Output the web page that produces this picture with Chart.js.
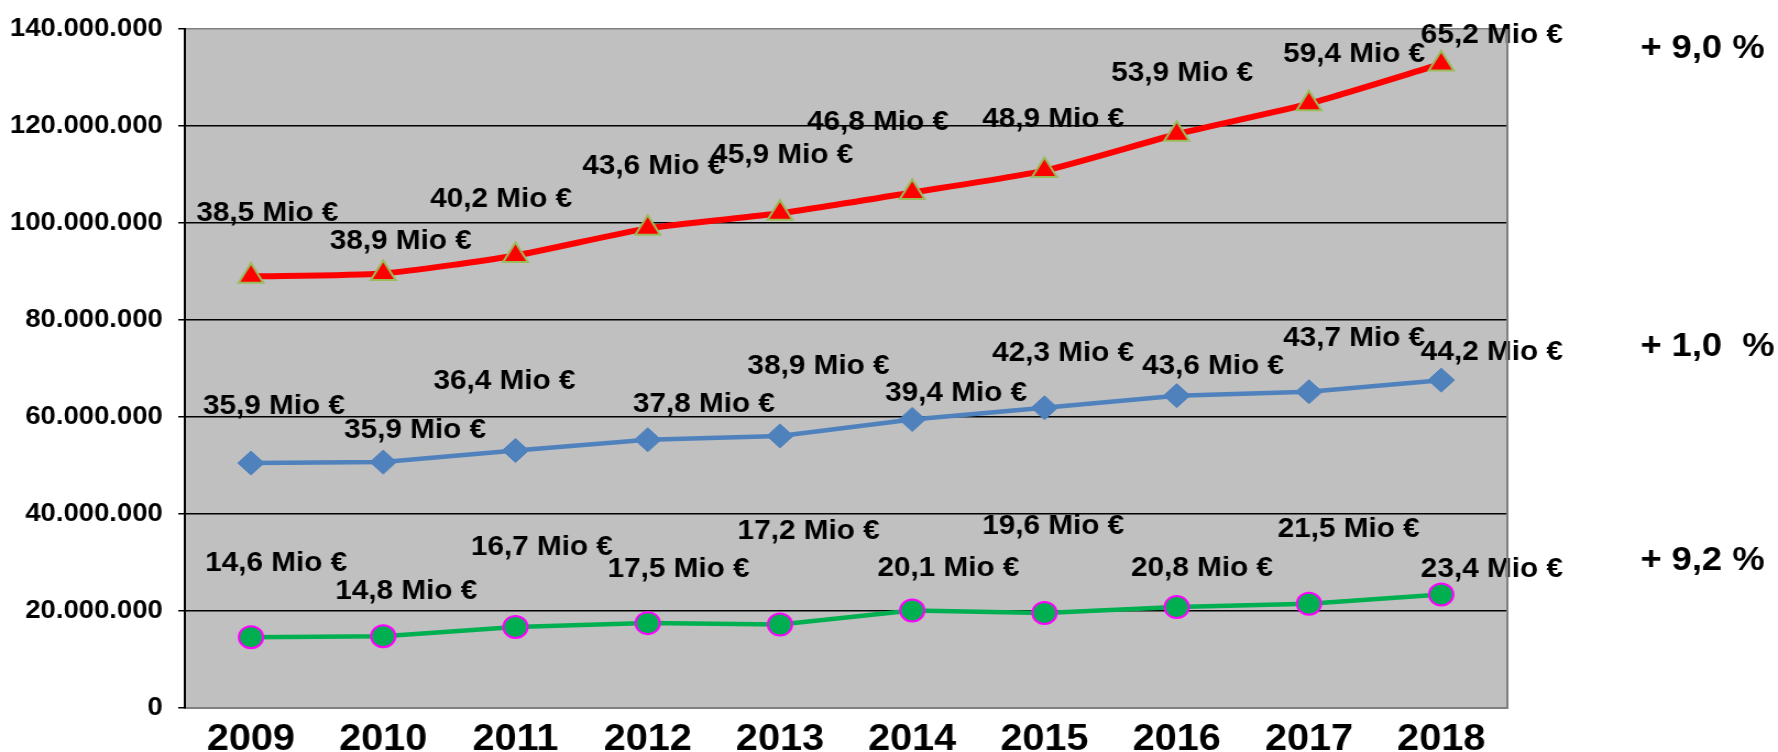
<!DOCTYPE html>
<html>
<head>
<meta charset="utf-8">
<script src="https://cdn.jsdelivr.net/npm/chart.js@4/dist/chart.umd.min.js"></script>
<style>
  body { margin: 0; background: #fff; }
  /* the original picture is a slightly stretched chart, so draw narrower and stretch */
  #chart { display: block; }
</style>
</head>
<body>
<canvas id="chart" width="1616" height="752" style="width:1778px;height:752px"></canvas>
<script>
const years = ["2009", "2010", "2011", "2012", "2013", "2014", "2015", "2016", "2017", "2018"];
// values in Mio €, the lines are stacked on top of each other
const bottomValues = [14.6, 14.8, 16.7, 17.5, 17.2, 20.1, 19.6, 20.8, 21.5, 23.4];
const middleValues = [35.9, 35.9, 36.4, 37.8, 38.9, 39.4, 42.3, 43.6, 43.7, 44.2];
const topValues = [38.5, 38.9, 40.2, 43.6, 45.9, 46.8, 48.9, 53.9, 59.4, 65.2];
const growthLabels = ["+ 9,2 %", "+ 1,0  %", "+ 9,0 %"];
const yMax = 140;
const yStep = 20;

// where each value label sits relative to its point (canvas px, before stretch)
const labelOffsets = [
  [[23, -74], [21, -45], [24, -79], [28, -54], [26, -93], [33, -42], [8, -86], [23, -39], [36, -74], [46, -25]],
  [[21, -57], [29, -32], [-10, -69], [51, -35], [35, -69], [40, -26], [17, -54], [33, -29], [41, -53], [46, -28]],
  [[15, -63], [16, -32], [-13, -56], [5, -62], [2, -58], [-31, -70], [8, -51], [5, -61], [41, -49], [46, -28]],
];
const growthOffsets = [[181, -34], [181, -33], [181, -15]];

const fmtMio = (v) => v.toFixed(1).replace(".", ",") + " Mio €";
const fmtTick = (v) => String(Math.round(v * 1000000)).replace(/\B(?=(\d{3})+(?!\d))/g, ".");

Chart.defaults.font.family = "'Liberation Sans', Arial, sans-serif";
Chart.defaults.font.weight = "bold";
Chart.defaults.color = "#000";

const plotBackground = {
  id: "plotBackground",
  beforeDraw(chart) {
    const { ctx, chartArea: a } = chart;
    ctx.save();
    ctx.fillStyle = "#c0c0c0";
    ctx.fillRect(a.left, a.top, a.right - a.left, a.bottom - a.top);
    ctx.restore();
  },
  afterDraw(chart) {
    const { ctx, chartArea: a } = chart;
    ctx.save();
    ctx.strokeStyle = "#808080";
    ctx.lineWidth = 2;
    ctx.beginPath();
    ctx.moveTo(a.right, a.top);
    ctx.lineTo(a.right, a.bottom);
    ctx.stroke();
    ctx.restore();
  },
};

const valueLabels = {
  id: "valueLabels",
  afterDatasetsDraw(chart) {
    const ctx = chart.ctx;
    ctx.save();
    ctx.fillStyle = "#000";
    ctx.textAlign = "center";
    ctx.textBaseline = "middle";
    ctx.font = "bold 27px 'Liberation Sans'";
    chart.data.datasets.forEach((ds, d) => {
      const meta = chart.getDatasetMeta(d);
      meta.data.forEach((pt, i) => {
        const [dx, dy] = labelOffsets[d][i];
        ctx.fillText(fmtMio(ds.data[i]), pt.x + dx, pt.y + dy);
      });
    });
    ctx.font = "bold 33px 'Liberation Sans'";
    ctx.textAlign = "left";
    chart.data.datasets.forEach((ds, d) => {
      const meta = chart.getDatasetMeta(d);
      const last = meta.data[meta.data.length - 1];
      const [dx, dy] = growthOffsets[d];
      ctx.fillText(growthLabels[d], last.x + dx, last.y + dy);
    });
    ctx.restore();
  },
};

new Chart(document.getElementById("chart"), {
  type: "line",
  data: {
    labels: years,
    datasets: [
      {
        data: bottomValues,
        borderColor: "#00b050",
        borderWidth: 4.5,
        pointStyle: "circle",
        pointRadius: 11,
        pointBackgroundColor: "#00b050",
        pointBorderColor: "#ff00ff",
        pointBorderWidth: 2,
        tension: 0,
      },
      {
        data: middleValues,
        borderColor: "#4f81bd",
        borderWidth: 4.5,
        pointStyle: "rectRot",
        pointRadius: 12,
        pointBackgroundColor: "#4f81bd",
        pointBorderColor: "#4f81bd",
        pointBorderWidth: 1,
        tension: 0,
      },
      {
        data: topValues,
        borderColor: "#ff0000",
        borderWidth: 6,
        pointStyle: "triangle",
        pointRadius: 13,
        pointBackgroundColor: "#ff0000",
        pointBorderColor: "#9bbb59",
        pointBorderWidth: 2,
        tension: 0.2,
      },
    ],
  },
  options: {
    responsive: false,
    animation: false,
    layout: { padding: { top: 24, right: 246, left: 0, bottom: 0 } },
    plugins: { legend: { display: false }, tooltip: { enabled: false } },
    scales: {
      x: {
        offset: true,
        grid: { display: false, drawTicks: false },
        border: { color: "#808080", width: 2 },
        ticks: { font: { size: 36, weight: "bold" }, padding: 10 },
        afterFit: (s) => { s.height = 44; },
      },
      y: {
        stacked: true,
        min: 0,
        max: yMax,
        grid: {
          color: (c) => (c.tick && c.tick.value === yMax ? "#808080" : "#000"),
          lineWidth: 1.5,
          tickLength: 6,
          tickColor: "#000",
        },
        border: { color: "#000", width: 2 },
        ticks: {
          stepSize: yStep,
          padding: 14,
          font: { size: 25, weight: "bold" },
          callback: (v) => fmtTick(v),
        },
        afterFit: (s) => { s.width = 168; },
      },
    },
  },
  plugins: [plotBackground, valueLabels],
});
</script>
</body>
</html>
